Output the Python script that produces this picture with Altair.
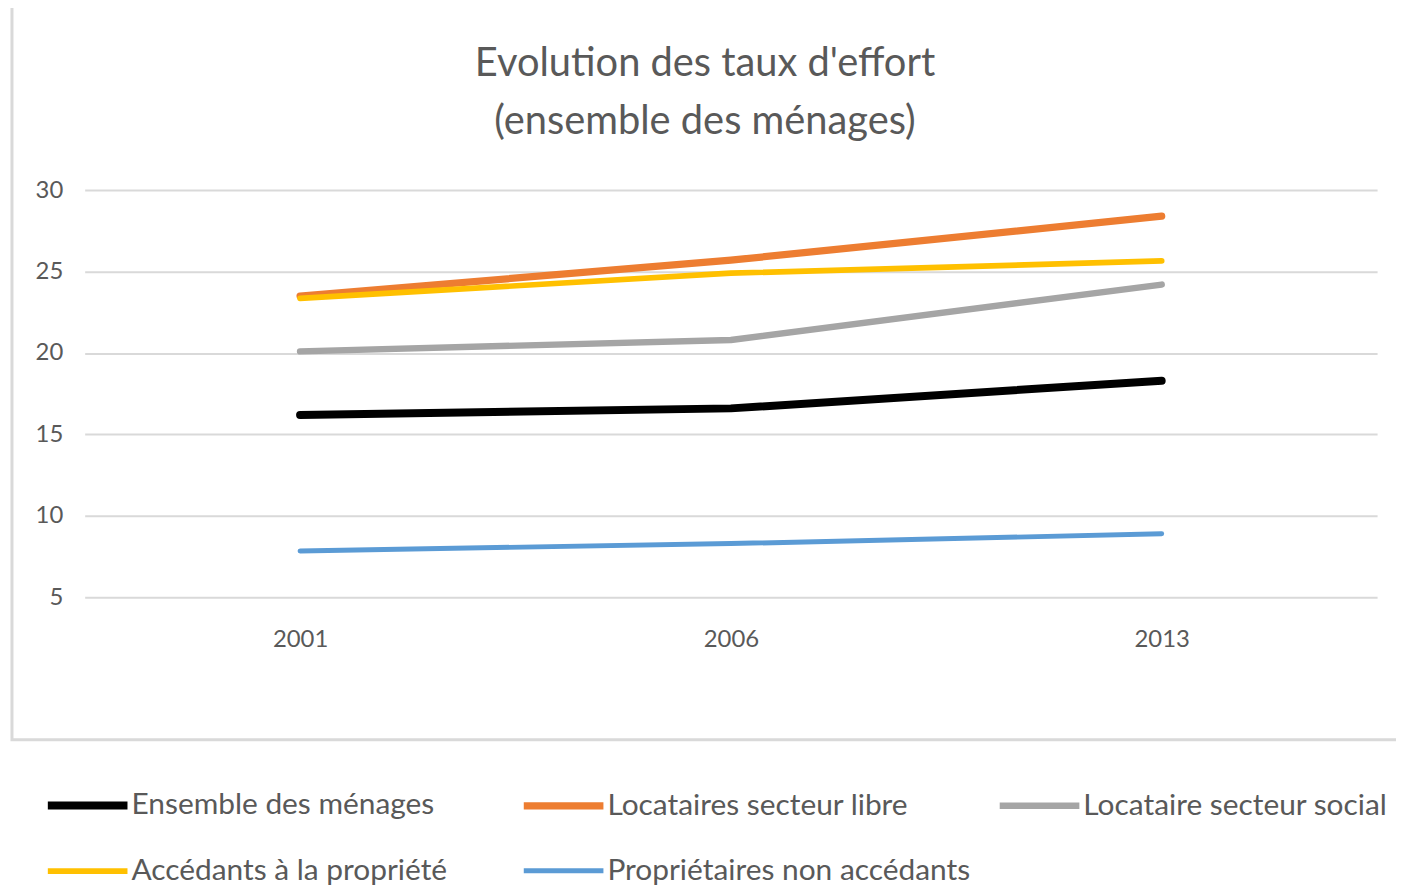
import altair as alt
import pandas as pd

years = ["2001", "2006", "2013"]
series = [
    "Ensemble des ménages",
    "Locataires secteur libre",
    "Locataire secteur social",
    "Accédants à la propriété",
    "Propriétaires non accédants",
]
ensemble = [16.2, 16.6, 18.3]
libre = [23.5, 25.7, 28.4]
social = [20.1, 20.8, 24.2]
accedants = [23.35, 24.9, 25.65]
proprietaires = [7.85, 8.3, 8.9]

colors = ["#000000", "#ED7D31", "#A5A5A5", "#FFC000", "#5B9BD5"]
widths = [8, 5, 5, 5, 5]

values = [ensemble, libre, social, accedants, proprietaires]
rows = []
for s, vals in zip(series, values):
    for y, v in zip(years, vals):
        rows.append({"Année": y, "Série": s, "Taux": v})
df = pd.DataFrame(rows)

FONT = "Lato"
TXT = "#595959"

legend_opts = dict(title=None, orient="none", legendX=-41, legendY=574,
                   columns=3, symbolType="stroke", symbolSize=6400,
                   labelFontSize=30, labelFont=FONT, labelColor=TXT, labelLimit=600,
                   labelOffset=0, columnPadding=14, rowPadding=7, gridAlign="all",
                   direction="horizontal")

lines = alt.Chart(df).mark_line(strokeCap="round", strokeJoin="round").encode(
    x=alt.X("Année:O", sort=years,
            scale=alt.Scale(type="point", padding=0.5),
            axis=alt.Axis(title=None, labelAngle=0, domain=False, ticks=False,
                          labelFontSize=24, labelColor=TXT, labelFont=FONT,
                          labelPadding=30, grid=False)),
    y=alt.Y("Taux:Q", scale=alt.Scale(domain=[5, 30], nice=False, zero=False),
            axis=alt.Axis(title=None, values=[5, 10, 15, 20, 25, 30], domain=False,
                          ticks=False, labelFontSize=24, labelColor=TXT, labelFont=FONT,
                          labelPadding=22, gridColor="#D9D9D9", gridWidth=2)),
    color=alt.Color("Série:N", sort=series,
                    scale=alt.Scale(domain=series, range=colors),
                    legend=alt.Legend(**legend_opts)),
    strokeWidth=alt.StrokeWidth("Série:N", sort=series,
                                scale=alt.Scale(domain=series, range=widths),
                                legend=alt.Legend(**legend_opts)),
)

border_df = pd.DataFrame({"k": [0]})
border = alt.Chart(border_df).mark_rect(fill=None, stroke="#D9D9D9", strokeWidth=3).encode(
    x=alt.value(-73), x2=alt.value(1340), y=alt.value(-185), y2=alt.value(552)
)

chart = alt.layer(border, lines).properties(
    width=1298,
    height=409,
    title=alt.Title(["Evolution des taux d'effort", "(ensemble des ménages)"],
                    fontSize=40, font=FONT, color=TXT, fontWeight="normal",
                    lineHeight=58, anchor="middle", frame="group", offset=-138,
                    dx=-26),
    autosize=alt.AutoSizeParams(type="none"),
    padding={"left": 77, "top": 181, "right": 19, "bottom": 287},
    background="white",
).configure_view(stroke=None)

chart.save("out.html", embed_options={"renderer": "svg", "actions": False})
